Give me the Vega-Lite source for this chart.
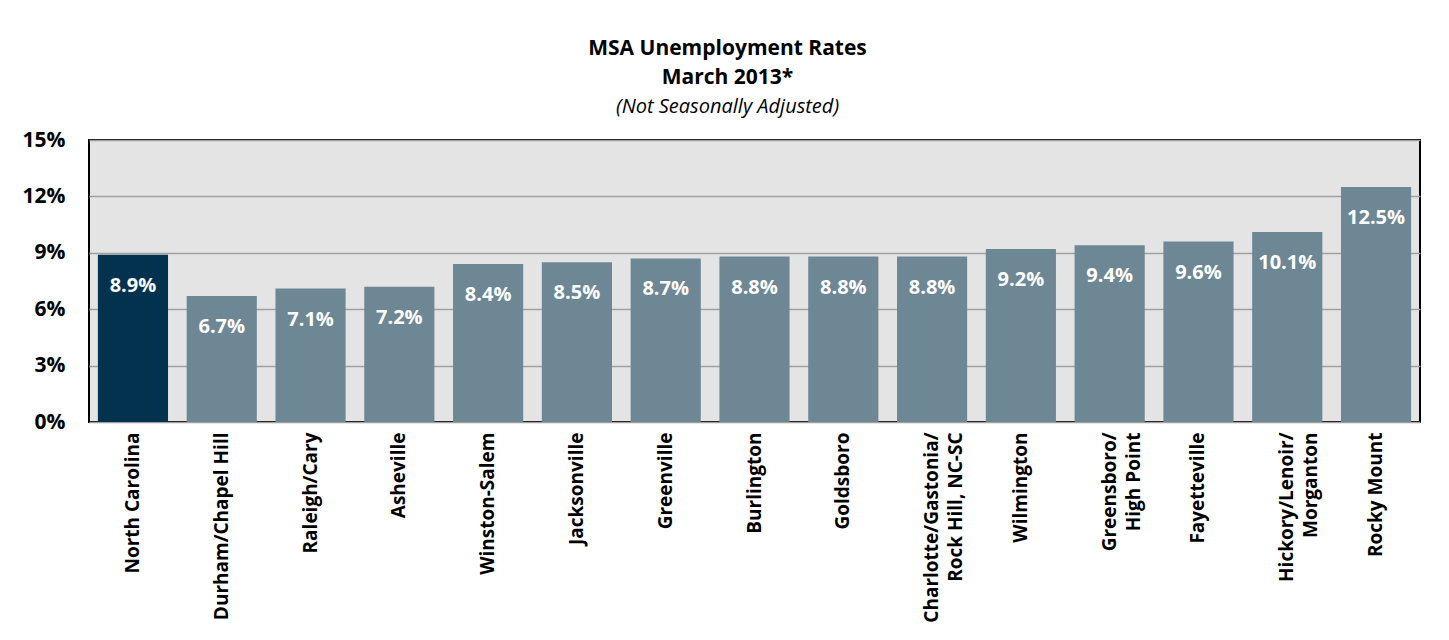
{
  "$schema": "https://vega.github.io/schema/vega-lite/v6.json",
  "width": 1331,
  "height": 282,
  "autosize": "none",
  "padding": {"left": 89, "top": 140, "right": 29, "bottom": 218},
  "background": "white",
  "title": {
    "text": ["MSA Unemployment Rates", "March 2013*"],
    "subtitle": "(Not Seasonally Adjusted)",
    "fontSize": 21,
    "fontWeight": "bold",
    "lineHeight": 29,
    "color": "black",
    "subtitleFontSize": 20,
    "subtitleFontStyle": "italic",
    "subtitleColor": "black",
    "subtitlePadding": 9,
    "anchor": "middle",
    "frame": "group",
    "dx": -27,
    "offset": 12
  },
  "data": {
    "values": [
      {"area": "North Carolina", "rate": 0.089},
      {"area": "Durham/Chapel Hill", "rate": 0.067},
      {"area": "Raleigh/Cary", "rate": 0.071},
      {"area": "Asheville", "rate": 0.072},
      {"area": "Winston-Salem", "rate": 0.084},
      {"area": "Jacksonville", "rate": 0.085},
      {"area": "Greenville", "rate": 0.087},
      {"area": "Burlington", "rate": 0.088},
      {"area": "Goldsboro", "rate": 0.088},
      {"area": "Charlotte/Gastonia/Rock Hill, NC-SC", "rate": 0.088},
      {"area": "Wilmington", "rate": 0.092},
      {"area": "Greensboro/High Point", "rate": 0.094},
      {"area": "Fayetteville", "rate": 0.096},
      {"area": "Hickory/Lenoir/Morganton", "rate": 0.101},
      {"area": "Rocky Mount", "rate": 0.125}
    ]
  },
  "encoding": {
    "x": {
      "field": "area",
      "type": "nominal",
      "sort": null,
      "scale": {"paddingInner": 0.21, "paddingOuter": 0.1},
      "axis": {
        "title": null,
        "labelAngle": -90,
        "labelFontSize": 19,
        "labelFontWeight": "bold",
        "labelColor": "black",
        "labelPadding": 10,
        "labelLineHeight": 24,
        "labelLimit": 0,
        "ticks": false,
        "domain": false,
        "labelExpr": "datum.label == 'Charlotte/Gastonia/Rock Hill, NC-SC' ? ['Charlotte/Gastonia/', 'Rock Hill, NC-SC'] : datum.label == 'Greensboro/High Point' ? ['Greensboro/', 'High Point'] : datum.label == 'Hickory/Lenoir/Morganton' ? ['Hickory/Lenoir/', 'Morganton'] : datum.label"
      }
    },
    "y": {
      "field": "rate",
      "type": "quantitative",
      "scale": {"domain": [0, 0.15], "nice": false},
      "axis": {
        "title": null,
        "values": [0, 0.03, 0.06, 0.09, 0.12, 0.15],
        "format": ".0%",
        "labelFontSize": 21,
        "labelFontWeight": "bold",
        "labelColor": "black",
        "labelPadding": 24,
        "ticks": false,
        "domain": false,
        "grid": true,
        "gridColor": "#a0a0a0",
        "gridWidth": 1.5
      }
    }
  },
  "layer": [
    {
      "mark": {"type": "bar"},
      "encoding": {
        "color": {
          "condition": {"test": "datum.area === 'North Carolina'", "value": "#03324f"},
          "value": "#6d8795"
        }
      }
    },
    {
      "mark": {
        "type": "text",
        "color": "white",
        "fontWeight": "bold",
        "fontSize": 20,
        "baseline": "middle",
        "dy": 31
      },
      "encoding": {
        "text": {"field": "rate", "type": "quantitative", "format": ".1%"}
      }
    }
  ],
  "config": {
    "font": "Open Sans",
    "view": {"fill": "#e4e4e4", "stroke": "#000000", "strokeWidth": 2}
  }
}
